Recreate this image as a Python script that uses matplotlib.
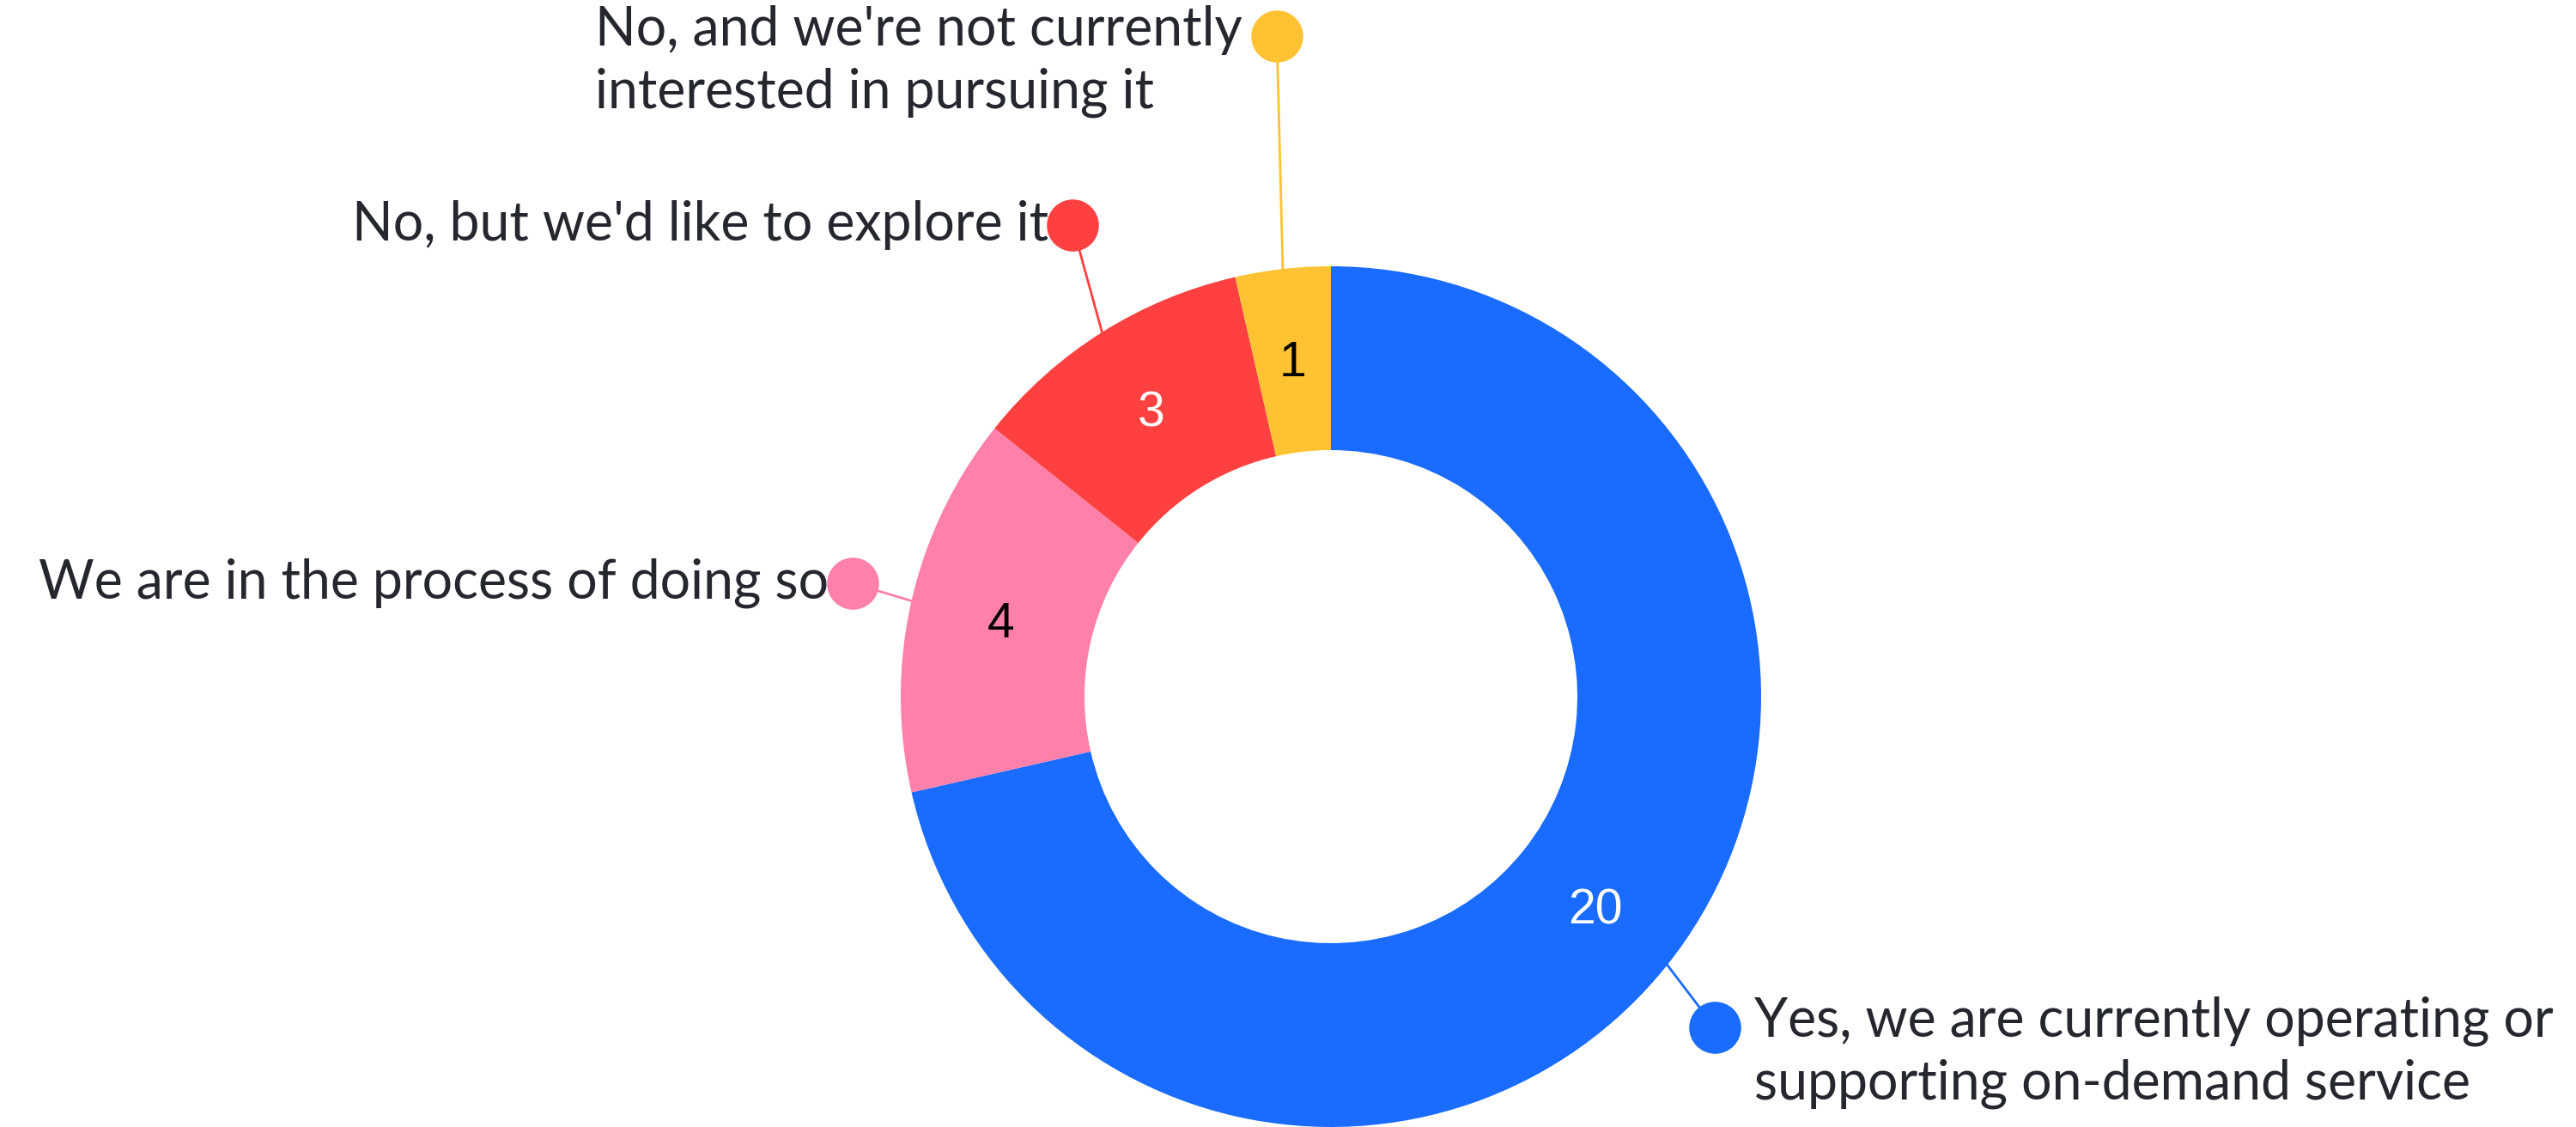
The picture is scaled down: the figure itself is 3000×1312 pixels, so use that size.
import numpy as np
import matplotlib.pyplot as plt

labels = [
    "Yes, we are currently operating or\nsupporting on-demand service",
    "We are in the process of doing so",
    "No, but we'd like to explore it",
    "No, and we're not currently\ninterested in pursuing it",
]
values = [20, 4, 3, 1]
colors = ["#1a6bff", "#ff80aa", "#ff4040", "#ffc233"]
value_colors = ["white", "black", "white", "black"]

# layout (pixels, y measured from top)
W, H = 3000, 1312
cx, cy = 1550, 811
r_out, r_in = 501, 287
dot_pos = [(1997, 1196), (993, 679), (1249, 262), (1487, 42)]
text_font = "Lato"
text_color = "#25272f"


def main():
    fig = plt.figure(figsize=(W / 100, H / 100), dpi=100)
    ax = fig.add_axes([0, 0, 1, 1])
    ax.set_xlim(0, W)
    ax.set_ylim(0, H)
    ax.set_aspect("equal")
    ax.axis("off")

    wedges, _ = ax.pie(values, colors=colors, startangle=90, counterclock=False,
                       radius=r_out, center=(cx, H - cy),
                       wedgeprops=dict(width=r_out - r_in, linewidth=0))
    ax.set_xlim(0, W)
    ax.set_ylim(0, H)

    r_mid = (r_out + r_in) / 2
    for i, w in enumerate(wedges):
        ang = np.deg2rad((w.theta1 + w.theta2) / 2)
        # value inside ring
        ax.text(cx + r_mid * np.cos(ang), H - cy + r_mid * np.sin(ang) - 4, str(values[i]),
                color=value_colors[i], fontsize=41, family="Liberation Sans",
                ha="center", va="center")
        # leader line + dot
        ex, ey = cx + r_out * np.cos(ang), H - cy + r_out * np.sin(ang)
        dx, dy = dot_pos[i][0], H - dot_pos[i][1]
        ax.plot([ex, dx], [ey, dy], color=colors[i], lw=2, zorder=1)
        ax.scatter([dx], [dy], s=1900, color=colors[i], zorder=3, linewidths=0)

        if dx > cx + 200:
            ax.text(dx + 46, dy + 36, labels[i], ha="left", va="top",
                    fontsize=45, family=text_font, color=text_color, linespacing=1.3)
        elif "\n" in labels[i]:
            ax.text(dx - 40, dy + 36, labels[i], ha="right", va="top", multialignment="left",
                    fontsize=45, family=text_font, color=text_color, linespacing=1.3)
        else:
            ax.text(dx - 28, dy, labels[i], ha="right", va="center",
                    fontsize=45, family=text_font, color=text_color)

    fig.savefig("out.png", dpi=100, facecolor="white")


if __name__ == "__main__":
    main()
